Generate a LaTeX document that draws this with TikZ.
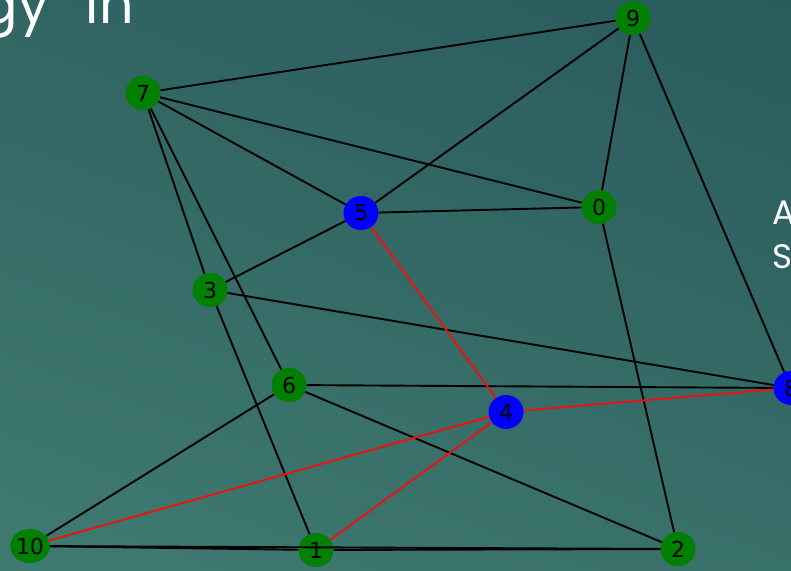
\documentclass[tikz,border=0pt]{standalone}
\usepackage{fontspec}
\setmainfont{DejaVu Sans}
\newfontfamily\titlefont{Poppins}
\newfontfamily\titlewide[WordSpace=2.6]{Poppins}
\usetikzlibrary{shapes.geometric}
\definecolor{bgtop}{HTML}{295A5C}
\definecolor{bgbot}{HTML}{407B71}
\definecolor{ngreen}{HTML}{008000}
\definecolor{nblue}{HTML}{0000FF}
\definecolor{ered}{HTML}{F01010}
\begin{document}
\begin{tikzpicture}[x=1pt,y=-1pt,
  vtx/.style={ellipse, inner sep=0pt, minimum width=35pt, minimum height=34pt,
    font=\fontsize{22}{22}\selectfont, text=black},
  gnode/.style={vtx, fill=ngreen},
  bnode/.style={vtx, fill=nblue},
  blk/.style={draw=black, line width=1.9pt},
  redge/.style={draw=ered, line width=1.9pt},
  ttl/.style={text=white, inner sep=0pt}]
\useasboundingbox (0,0) rectangle (791,570);
\clip (0,0) rectangle (791,570);
\shade[top color=bgtop, bottom color=bgbot, shading angle=-20] (-100,-100) rectangle (891,670);
% title fragments
\node[ttl, anchor=base east, font=\titlewide\fontsize{54}{54}\selectfont] (t1) at (134,23) {gy in};
\node[ttl, anchor=base west, font=\titlefont\fontsize{34}{34}\selectfont] (t2) at (772,224) {A};
\node[ttl, anchor=base west, font=\titlefont\fontsize{34}{34}\selectfont] (t3) at (772,268) {S};
% nodes
\node[gnode] (n9) at (633,18) {9};
\node[gnode] (n7) at (143,93) {7};
\node[bnode] (n5) at (361,213) {5};
\node[gnode] (n0) at (599,207) {0};
\node[gnode] (n3) at (210,290) {3};
\node[gnode] (n6) at (289,385) {6};
\node[bnode] (n4) at (506,412) {4};
\node[bnode] (n8) at (791,388) {8};
\node[gnode] (n10) at (30,546) {10};
\node[gnode] (n1) at (316,550) {1};
\node[gnode] (n2) at (678,549) {2};
% edges
\draw[blk] (n7) -- (n9);
\draw[blk] (n7) -- (n0);
\draw[blk] (n7) -- (n5);
\draw[blk] (n7) -- (n3);
\draw[blk] (n7) -- (n6);
\draw[blk] (n3) -- (n1);
\draw[blk] (n3) -- (n5);
\draw[blk] (n3) -- (n8);
\draw[blk] (n5) -- (n9);
\draw[blk] (n5) -- (n0);
\draw[blk] (n9) -- (n0);
\draw[blk] (n9) -- (n8);
\draw[blk] (n0) -- (n2);
\draw[blk] (n6) -- (n8);
\draw[blk] (n6) -- (n10);
\draw[blk] (n6) -- (n2);
\draw[blk] (n10) -- (n1);
\draw[blk] (n10) -- (n2);
\draw[blk] (n1) -- (n2);
\draw[redge] (n5) -- (n4);
\draw[redge] (n4) -- (n8);
\draw[redge] (n4) -- (n10);
\draw[redge] (n4) -- (n1);
\end{tikzpicture}
\end{document}
